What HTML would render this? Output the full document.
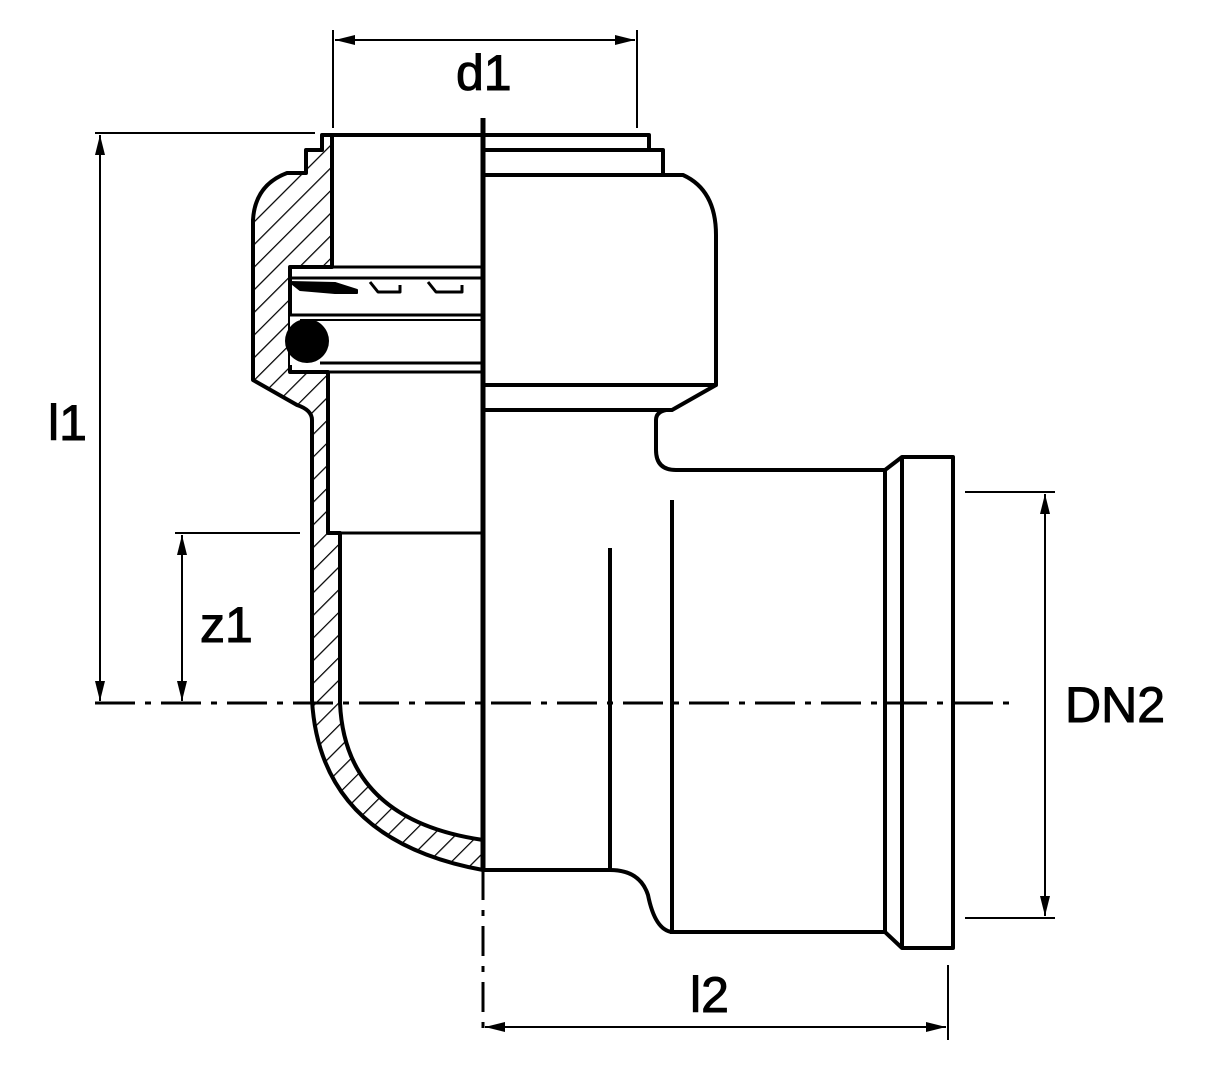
<!DOCTYPE html>
<html><head><style>html,body{margin:0;padding:0;background:#fff}svg{display:block}</style></head>
<body>
<svg width="1213" height="1080" viewBox="0 0 1213 1080" xmlns="http://www.w3.org/2000/svg">
<defs>
<pattern id="h" patternUnits="userSpaceOnUse" width="16" height="16" patternTransform="rotate(45)">
<line x1="0" y1="0" x2="0" y2="16" stroke="#000" stroke-width="2.5"/>
</pattern>
<marker id="a" viewBox="0 0 20 10" refX="20" refY="5" markerWidth="20" markerHeight="10" orient="auto-start-reverse" markerUnits="userSpaceOnUse">
<path d="M0,0 L20,5 L0,10 z" fill="#000"/>
</marker>
</defs>
<g fill="none" stroke="#000" stroke-width="4" stroke-linejoin="round">
<path fill="url(#h)" d="M322,135 L332,135 L332,267 L290,267 L290,372 L328,372 L328,533 L340,533 L340,703 Q345,820 483,840 L483,870 Q320,840 312,700 L312,420 Q312,410 297,405 L253,380 L253,220 Q255,185 287,173 L306,173 L306,150 L322,150 Z"/>
<rect x="290" y="315" width="40" height="50" fill="#fff" stroke="none"/>
<path d="M290,267 L290,315" stroke-width="3"/>
<line x1="322" y1="135" x2="483" y2="135"/>
<line x1="332" y1="135" x2="332" y2="267"/>
<line x1="290" y1="267" x2="483" y2="267" stroke-width="3"/>
<line x1="290" y1="315" x2="483" y2="315" stroke-width="3"/>
<line x1="300" y1="320" x2="483" y2="320" stroke-width="2"/>
<line x1="320" y1="363" x2="483" y2="363" stroke-width="3"/>
<line x1="328" y1="372" x2="483" y2="372" stroke-width="3"/>
<line x1="328" y1="533" x2="483" y2="533" stroke-width="3"/>
<path d="M290,278 L483,278" stroke-width="3"/>
<path d="M290,282 L335,283 L357,290 L357,293 L335,293 L300,290 Z" fill="#000" stroke-width="2"/>
<path d="M370,282 L378,292 L400,292 L400,285" stroke-width="3"/>
<path d="M428,282 L436,292 L462,292 L462,285" stroke-width="3"/>
<circle cx="307" cy="341" r="22" fill="#000" stroke="none"/>
<line x1="483" y1="118" x2="483" y2="870" stroke-width="5"/>
<path d="M483,135 L649,135 L649,150 L663,150 L663,175"/>
<line x1="483" y1="150" x2="649" y2="150"/>
<path d="M483,175 L683,175 Q716,190 716,235 L716,385 L483,385"/>
<path d="M716,385 L672,410 L483,410"/>
<path d="M666,410 Q656,412 656,420 L656,450 Q656,470 676,470 L885,470 L902,457 L953,457 L953,948 L902,948 L885,932 L670,932"/>
<line x1="885" y1="470" x2="885" y2="932"/>
<line x1="902" y1="457" x2="902" y2="948"/>
<path d="M483,870 L610,870 Q640,870 648,895 Q655,930 672,932"/>
<line x1="610" y1="548" x2="610" y2="870"/>
<line x1="672" y1="500" x2="672" y2="932"/>
</g>
<g stroke="#000" stroke-width="3" fill="none">
<line x1="95" y1="703" x2="1010" y2="703" stroke-dasharray="40,10,6,10"/>
<line x1="483" y1="870" x2="483" y2="1035" stroke-dasharray="30,10,6,10"/>
</g>
<g stroke="#000" stroke-width="2" fill="none">
<line x1="333" y1="30" x2="333" y2="128"/>
<line x1="637" y1="30" x2="637" y2="128"/>
<line x1="335" y1="40" x2="635" y2="40" marker-start="url(#a)" marker-end="url(#a)"/>
<line x1="95" y1="133" x2="315" y2="133"/>
<line x1="100" y1="135" x2="100" y2="701" marker-start="url(#a)" marker-end="url(#a)"/>
<line x1="175" y1="533" x2="300" y2="533"/>
<line x1="182" y1="535" x2="182" y2="701" marker-start="url(#a)" marker-end="url(#a)"/>
<line x1="965" y1="492" x2="1055" y2="492"/>
<line x1="965" y1="918" x2="1055" y2="918"/>
<line x1="1045" y1="494" x2="1045" y2="916" marker-start="url(#a)" marker-end="url(#a)"/>
<line x1="948" y1="965" x2="948" y2="1040"/>
<line x1="485" y1="1027" x2="946" y2="1027" marker-start="url(#a)" marker-end="url(#a)"/>
</g>
<g font-family="Liberation Sans, sans-serif" font-size="50" fill="#000" stroke="#000" stroke-width="1">
<text x="456" y="90">d1</text>
<text x="48" y="440">l1</text>
<text x="200" y="642">z1</text>
<text x="1065" y="722">DN2</text>
<text x="690" y="1012">l2</text>
</g>
</svg>
</body></html>
